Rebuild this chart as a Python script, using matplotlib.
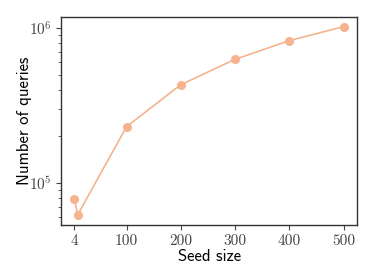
#!/usr/bin/env python3
"""plot.py -- number of queries vs seed size (log y)."""
import math

import matplotlib
matplotlib.use("Agg")
import matplotlib.pyplot as plt
from matplotlib.ticker import FixedLocator, FuncFormatter, LogLocator, NullFormatter

seed_size = [4, 10, 100, 200, 300, 400, 500]
n_queries = [78500, 62000, 230000, 430000, 627000, 828000, 1020000]
xtick_vals = [4, 100, 200, 300, 400, 500]

plt.rcParams["mathtext.fontset"] = "cm"

fig, ax = plt.subplots(figsize=(3.74, 2.8), dpi=100)
ax.plot(seed_size, n_queries, color="#f6b38f", marker="o", ms=5.5, lw=1.2)
ax.set_yscale("log")
ax.set_ylim(53200, 1.18e6)
ax.set_xlim(-20.8, 524.8)

ax.xaxis.set_major_locator(FixedLocator(xtick_vals))
ax.set_xticklabels([str(v) for v in xtick_vals], family="cmr10")
ax.yaxis.set_major_locator(LogLocator(base=10))
ax.yaxis.set_major_formatter(FuncFormatter(lambda v, p: r"$10^{%d}$" % round(math.log10(v))))
ax.yaxis.set_minor_locator(LogLocator(base=10, subs=range(2, 10)))
ax.yaxis.set_minor_formatter(NullFormatter())

ax.tick_params(axis="both", which="major", labelsize=11, labelcolor="#444444",
               color="#444444", length=3.5, width=0.8, pad=3)
ax.tick_params(axis="y", which="minor", color="#444444", length=2, width=0.6)
for s in ax.spines.values():
    s.set_color("#333333")
    s.set_linewidth(1.0)

ax.set_xlabel("Seed size", family="cmss10", fontsize=12, labelpad=1)
ax.set_ylabel("Number of queries", family="cmss10", fontsize=12, labelpad=-2)

fig.subplots_adjust(left=0.163, right=0.955, top=0.94, bottom=0.196)
fig.savefig("out.png", dpi=100)
